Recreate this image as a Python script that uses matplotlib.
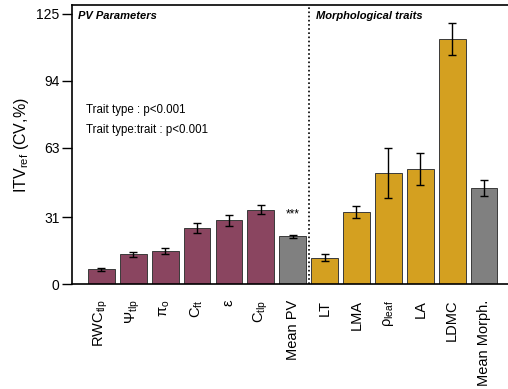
import matplotlib
matplotlib.use("Agg")
import matplotlib.pyplot as plt
import numpy as np

plt.rcParams['font.family'] = ['Liberation Sans', 'DejaVu Sans']
plt.rcParams['mathtext.fontset'] = 'custom'
plt.rcParams['mathtext.rm'] = 'Liberation Sans'
plt.rcParams['mathtext.it'] = 'Liberation Sans:italic'

labels = [r'RWC$_{\mathrm{tlp}}$', r'Ψ$_{\mathrm{tlp}}$', r'π$_{\mathrm{o}}$',
          r'C$_{\mathrm{ft}}$', 'ε', r'C$_{\mathrm{tlp}}$', 'Mean PV',
          'LT', 'LMA', r'ρ$_{\mathrm{leaf}}$', 'LA', 'LDMC', 'Mean Morph.']
values = [6.9, 13.9, 15.5, 26.2, 29.6, 34.4, 22.2,
          12.3, 33.3, 51.3, 53.3, 113.3, 44.4]
errors = [0.8, 1.2, 1.3, 2.3, 2.5, 2.1, 0.8,
          1.5, 2.8, 11.5, 7.2, 7.5, 3.7]
groups = ['pv'] * 6 + ['mean'] + ['morph'] * 5 + ['mean']
yticks = [0, 31, 63, 94, 125]

palette = {'pv': '#8a4560', 'morph': '#d4a020', 'mean': '#808080'}
colors = [palette[g] for g in groups]

fig = plt.figure(figsize=(5.08, 3.89), dpi=100)
ax = fig.add_axes([0.1417, 0.269, 0.8583, 0.718])

x = np.arange(len(values))
ax.bar(x, values, width=0.84, color=colors, edgecolor='#3a3a3a', linewidth=0.7,
       yerr=errors, error_kw=dict(ecolor='black', elinewidth=1.0, capsize=3, capthick=1.0))

ax.axvline(6.5, color='black', linestyle=(0, (1, 1.5)), linewidth=1.2)

ax.set_xlim(-0.92, 12.75)
ax.set_ylim(0, 129)
ax.set_yticks(yticks)
ax.set_yticklabels([str(t) for t in yticks], fontsize=10)
ax.set_xticks(x)
ax.set_xticklabels(labels, rotation=90, fontsize=10.5)
ax.tick_params(axis='x', length=0, pad=11)
ax.tick_params(axis='y', length=7, width=1, pad=2)

for side in ['left', 'top', 'bottom']:
    ax.spines[side].set_linewidth(1.2)
ax.spines['right'].set_visible(False)

ax.set_ylabel(r'ITV$_{\mathrm{ref}}$ (CV,%)', fontsize=11.5, labelpad=4)

ax.text(-0.72, 123.8, 'PV Parameters', fontsize=8, fontweight='bold', fontstyle='italic', va='center')
ax.text(6.72, 123.8, 'Morphological traits', fontsize=8, fontweight='bold', fontstyle='italic', va='center')
ax.text(-0.48, 80.5, 'Trait type : p<0.001', fontsize=8.3, va='center')
ax.text(-0.48, 71.3, 'Trait type:trait : p<0.001', fontsize=8.3, va='center')
ax.text(6, 32.5, '***', fontsize=8.5, ha='center', va='center')

fig.savefig('out.png', dpi=100)
